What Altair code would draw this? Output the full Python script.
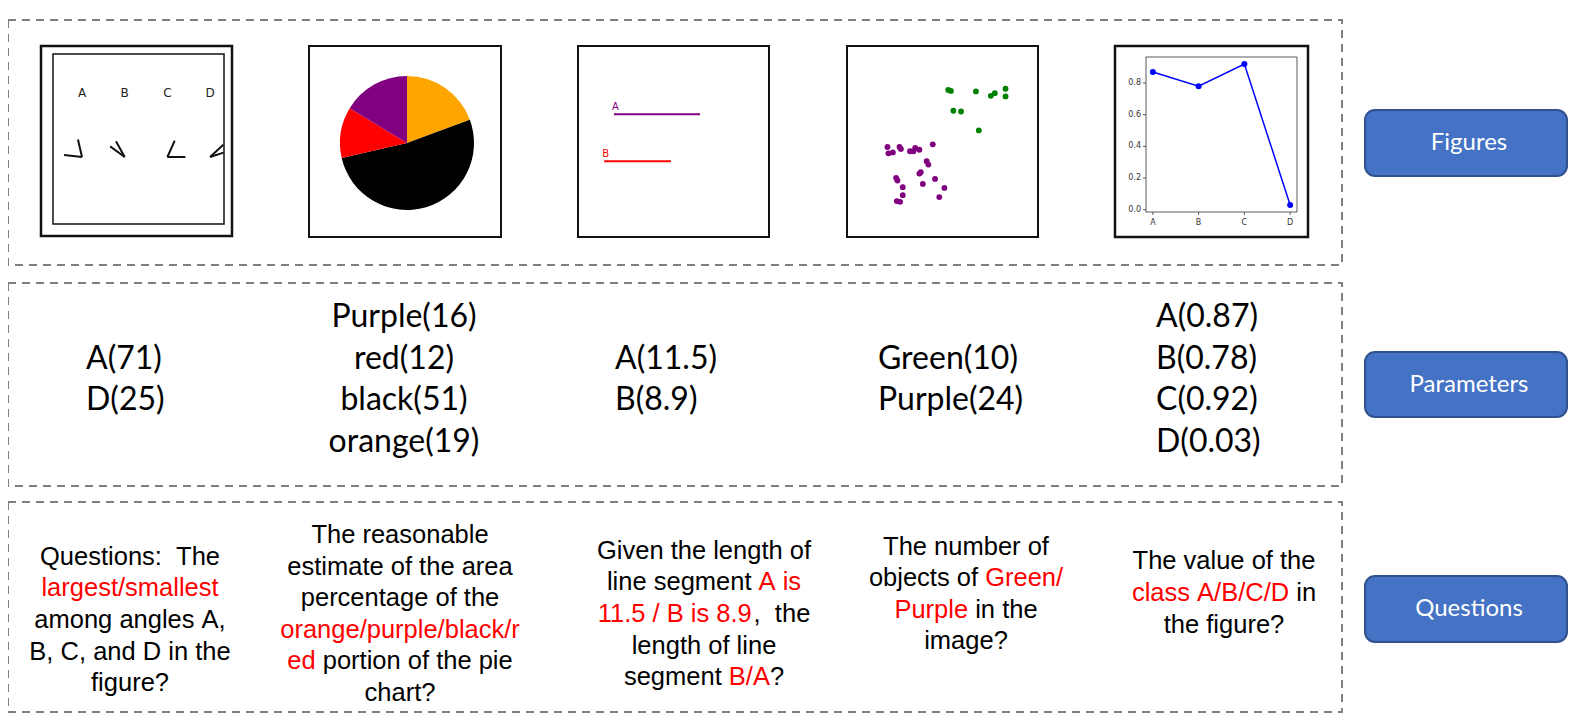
import math
import altair as alt
import pandas as pd

# ---------------- data ----------------
row_names = ["Figures", "Parameters", "Questions"]

angle_labels = ["A", "B", "C", "D"]
angle_values = [71, 25, 66, 25]          # opening of each angle (deg)
angle_orient = [103, 119, 0, 18]         # direction of first arm (deg)

pie_labels = ["orange", "black", "red", "purple"]
pie_values = [19, 51, 12, 16]
pie_colors = ["#FFA500", "#000000", "#FF0000", "#800080"]

seg_labels = ["A", "B"]
seg_lengths = [11.5, 8.9]
seg_start = [4.8, 3.5]
seg_level = [9.1, 15.4]
seg_colors = ["#800080", "#FF0000"]

green_x = [0.530, 0.544, 0.675, 0.753, 0.774, 0.830, 0.830, 0.557, 0.597, 0.690]
green_y = [0.770, 0.765, 0.762, 0.739, 0.753, 0.776, 0.736, 0.661, 0.657, 0.558]
purple_x = [0.212, 0.217, 0.240, 0.275, 0.282, 0.330, 0.348, 0.357, 0.379, 0.449,
            0.417, 0.426, 0.379, 0.386, 0.397, 0.257, 0.264, 0.292, 0.292, 0.261,
            0.278, 0.461, 0.510, 0.483]
purple_y = [0.471, 0.438, 0.443, 0.471, 0.461, 0.449, 0.449, 0.466, 0.457, 0.485,
            0.397, 0.379, 0.332, 0.339, 0.278, 0.310, 0.296, 0.261, 0.219, 0.188,
            0.184, 0.304, 0.257, 0.209]

line_classes = ["A", "B", "C", "D"]
line_values = [0.87, 0.78, 0.92, 0.03]
line_yticks = [0.0, 0.2, 0.4, 0.6, 0.8]

param_text = [
    ["A(71)", "D(25)"],
    ["Purple(16)", "red(12)", "black(51)", "orange(19)"],
    ["A(11.5)", "B(8.9)"],
    ["Green(10)", "Purple(24)"],
    ["A(0.87)", "B(0.78)", "C(0.92)", "D(0.03)"],
]

question_text = [
    [[("Questions:  The", 0)], [("largest/smallest", 1)], [("among angles A,", 0)],
     [("B, C, and D in the", 0)], [("figure?", 0)]],
    [[("The reasonable", 0)], [("estimate of the area", 0)], [("percentage of the", 0)],
     [("orange/purple/black/r", 1)], [("ed", 1), (" portion of the pie", 0)], [("chart?", 0)]],
    [[("Given the length of", 0)], [("line segment ", 0), ("A is", 1)],
     [("11.5 / B is 8.9", 1), (",  the", 0)], [("length of line", 0)],
     [("segment ", 0), ("B/A", 1), ("?", 0)]],
    [[("The number of", 0)], [("objects of ", 0), ("Green/", 1)],
     [("Purple", 1), (" in the", 0)], [("image?", 0)]],
    [[("The value of the", 0)], [("class A/B/C/D", 1), (" in", 0)], [("the figure?", 0)]],
]

# ---------------- layout ----------------
OX, OY, W, H = 8, 8, 1561, 710


def sx():
    return alt.Scale(domain=[OX, OX + W], range=[0, W], nice=False, zero=False)


def sy():
    return alt.Scale(domain=[OY, OY + H], range=[0, H], nice=False, zero=False)


def CX(f):
    return alt.X(f, type="quantitative", scale=sx(), axis=None)


def CY(f):
    return alt.Y(f, type="quantitative", scale=sy(), axis=None)


def rects(boxes, **mk):
    df = pd.DataFrame(boxes, columns=["x", "y", "x2", "y2"])
    return alt.Chart(df).mark_rect(**mk).encode(
        x=CX("x"), x2=alt.X2("x2"), y=CY("y"), y2=alt.Y2("y2"))


layers = []

# dashed group boxes
layers.append(rects([(8, 20, 1342, 265), (8, 283, 1342, 486), (8, 502, 1342, 712)],
                    fill="transparent", stroke="#808080", strokeWidth=2,
                    strokeDash=[8, 6]))

# blue row buttons
btn_boxes = [(1365, 110, 1567, 176), (1365, 352, 1567, 417), (1365, 576, 1567, 642)]
layers.append(rects(btn_boxes, fill="#4472C4", stroke="#2F528F", strokeWidth=2,
                    cornerRadius=10))
btn_df = pd.DataFrame({"x": [1469, 1469, 1469],
                       "y": [(b[1] + b[3]) / 2 for b in btn_boxes],
                       "t": row_names})
layers.append(alt.Chart(btn_df).mark_text(font="Lato", fontSize=24, color="white",
                                          align="center", baseline="middle").encode(
    x=CX("x"), y=CY("y"), text="t:N"))

# figure frames
layers.append(rects([(41, 46, 232, 236), (1115, 46, 1308, 237)],
                    fill="white", stroke="#111111", strokeWidth=2.5))
layers.append(rects([(309, 46, 501, 237), (578, 46, 769, 237), (847, 46, 1038, 237)],
                    fill="white", stroke="#111111", strokeWidth=2))
layers.append(rects([(53, 54, 224, 224)], fill="transparent", stroke="#111111",
                    strokeWidth=1.5))

# ---- figure 1: angles
ARM, VY, VX0, VDX, CLIP = 18, 157, 82, 42.7, 223.5
arm_rows, lab_rows = [], []
for i, (lab, val, ori) in enumerate(zip(angle_labels, angle_values, angle_orient)):
    vx = VX0 + i * VDX
    lab_rows.append(dict(x=vx, y=93, t=lab))
    for th in (ori, ori + val):
        ex = vx + ARM * math.cos(math.radians(th))
        ey = VY - ARM * math.sin(math.radians(th))
        if ex > CLIP:
            k = (CLIP - vx) / (ex - vx)
            ex, ey = vx + k * (ex - vx), VY + k * (ey - VY)
        arm_rows.append(dict(x=vx, y=VY, x2=ex, y2=ey))
layers.append(alt.Chart(pd.DataFrame(arm_rows)).mark_rule(
    color="#111111", strokeWidth=2).encode(
    x=CX("x"), y=CY("y"), x2=alt.X2("x2"), y2=alt.Y2("y2")))
layers.append(alt.Chart(pd.DataFrame(lab_rows)).mark_text(
    font="DejaVu Sans", fontSize=12, color="#222222", align="center",
    baseline="middle").encode(x=CX("x"), y=CY("y"), text="t:N"))

# ---- figure 2: pie
tot = float(sum(pie_values))
cum, pie_rows = 0.0, []
for lab, v, c in zip(pie_labels, pie_values, pie_colors):
    t0 = cum / tot * 2 * math.pi
    cum += v
    t1 = cum / tot * 2 * math.pi
    pie_rows.append(dict(label=lab, t0=t0, t1=t1, c=c, x=407, y=143))
layers.append(alt.Chart(pd.DataFrame(pie_rows)).mark_arc(radius=67).encode(
    x=CX("x"), y=CY("y"),
    theta=alt.Theta("t0:Q", scale=None), theta2=alt.Theta2("t1"),
    color=alt.Color("c:N", scale=None)))

# ---- figure 3: line segments
F3X = alt.Scale(domain=[0, 25.5], range=[578 - OX, 769 - OX], nice=False, zero=False)
F3Y = alt.Scale(domain=[0, 25.5], range=[46 - OY, 237 - OY], nice=False, zero=False)
seg_df = pd.DataFrame({"lab": seg_labels, "s": seg_start,
                       "e": [a + b for a, b in zip(seg_start, seg_lengths)],
                       "lv": seg_level, "c": seg_colors})
layers.append(alt.Chart(seg_df).mark_rule(strokeWidth=2).encode(
    x=alt.X("s:Q", scale=F3X, axis=None), x2=alt.X2("e"),
    y=alt.Y("lv:Q", scale=F3Y, axis=None), color=alt.Color("c:N", scale=None)))
layers.append(alt.Chart(seg_df).mark_text(
    font="DejaVu Sans", fontSize=10, align="left", baseline="middle", dx=-2,
    dy=-7).encode(
    x=alt.X("s:Q", scale=F3X, axis=None), y=alt.Y("lv:Q", scale=F3Y, axis=None),
    text="lab:N", color=alt.Color("c:N", scale=None)))

# ---- figure 4: scatter
F4X = alt.Scale(domain=[0, 1], range=[847 - OX, 1038 - OX], nice=False, zero=False)
F4Y = alt.Scale(domain=[0, 1], range=[237 - OY, 46 - OY], nice=False, zero=False)
sc_df = pd.DataFrame({"x": green_x + purple_x, "y": green_y + purple_y,
                      "c": ["#008000"] * len(green_x) + ["#800080"] * len(purple_x)})
layers.append(alt.Chart(sc_df).mark_circle(size=34, opacity=1).encode(
    x=alt.X("x:Q", scale=F4X, axis=None), y=alt.Y("y:Q", scale=F4Y, axis=None),
    color=alt.Color("c:N", scale=None)))

# ---- figure 5: line chart
LX = alt.Scale(domain=[-0.15, 3.15], range=[1146 - OX, 1297 - OX], nice=False, zero=False)
LY = alt.Scale(domain=[-0.0145, 0.9645], range=[212 - OY, 57 - OY], nice=False, zero=False)
layers.append(rects([(1146, 57, 1297, 212)], fill="transparent", stroke="#333333",
                    strokeWidth=0.8))
ln_df = pd.DataFrame({"i": list(range(len(line_classes))), "cls": line_classes,
                      "v": line_values})
layers.append(alt.Chart(ln_df).mark_line(color="#0000FF", strokeWidth=1.5).encode(
    x=alt.X("i:Q", scale=LX, axis=None), y=alt.Y("v:Q", scale=LY, axis=None)))
layers.append(alt.Chart(ln_df).mark_circle(color="#0000FF", size=36, opacity=1).encode(
    x=alt.X("i:Q", scale=LX, axis=None), y=alt.Y("v:Q", scale=LY, axis=None)))
yt_df = pd.DataFrame({"t": line_yticks, "lab": [f"{v:.1f}" for v in line_yticks],
                      "a": 1143, "b": 1146, "lx": 1141})
layers.append(alt.Chart(yt_df).mark_rule(color="#333333", strokeWidth=0.8).encode(
    x=CX("a"), x2=alt.X2("b"), y=alt.Y("t:Q", scale=LY, axis=None)))
layers.append(alt.Chart(yt_df).mark_text(
    font="DejaVu Sans", fontSize=8, color="#333333", align="right",
    baseline="middle").encode(
    x=CX("lx"), y=alt.Y("t:Q", scale=LY, axis=None), text="lab:N"))
xt_df = ln_df.assign(a=212, b=215, ly=223)
layers.append(alt.Chart(xt_df).mark_rule(color="#333333", strokeWidth=0.8).encode(
    x=alt.X("i:Q", scale=LX, axis=None), y=CY("a"), y2=alt.Y2("b")))
layers.append(alt.Chart(xt_df).mark_text(
    font="DejaVu Sans", fontSize=8, color="#333333", align="center",
    baseline="middle").encode(
    x=alt.X("i:Q", scale=LX, axis=None), y=CY("ly"), text="cls:N"))

# ---- parameters row
P_X = [86, 404, 615, 878, 1156]
P_ALIGN = ["left", "center", "left", "left", "left"]
P_CY, P_LH = 379.5, 41.5
p_rows = []
for col, lines in enumerate(param_text):
    n = len(lines)
    for li, t in enumerate(lines):
        p_rows.append(dict(x=P_X[col], y=P_CY + (li - (n - 1) / 2) * P_LH, t=t,
                           al=P_ALIGN[col]))
p_df = pd.DataFrame(p_rows)
for al in ("left", "center"):
    layers.append(alt.Chart(p_df[p_df.al == al]).mark_text(
        font="Lato", fontSize=32, color="black", align=al,
        baseline="middle").encode(x=CX("x"), y=CY("y"), text="t:N"))

# ---- questions row
AW = {' ': 278, '!': 278, '(': 333, ')': 333, ',': 278, '-': 333, '.': 278,
      '/': 278, ':': 278, '?': 556,
      'A': 667, 'B': 667, 'C': 722, 'D': 722, 'E': 667, 'F': 611, 'G': 778,
      'H': 722, 'I': 278, 'J': 500, 'K': 667, 'L': 556, 'M': 833, 'N': 722,
      'O': 778, 'P': 667, 'Q': 778, 'R': 722, 'S': 667, 'T': 611, 'U': 722,
      'V': 667, 'W': 944, 'X': 667, 'Y': 667, 'Z': 611,
      'a': 556, 'b': 556, 'c': 500, 'd': 556, 'e': 556, 'f': 278, 'g': 556,
      'h': 556, 'i': 222, 'j': 222, 'k': 500, 'l': 222, 'm': 833, 'n': 556,
      'o': 556, 'p': 556, 'q': 556, 'r': 333, 's': 500, 't': 278, 'u': 556,
      'v': 500, 'w': 722, 'x': 500, 'y': 500, 'z': 500}
for d in "0123456789":
    AW[d] = 556
Q_FS, Q_LH = 25.5, 31.6
Q_CX = [130, 400, 704, 966, 1224]
Q_CY = [620, 614, 614, 594, 593]


def tw(s):
    return sum(AW.get(ch, 556) for ch in s) * Q_FS / 1000.0


q_rows = []
for col, lines in enumerate(question_text):
    n = len(lines)
    for li, segs in enumerate(lines):
        y = Q_CY[col] + (li - (n - 1) / 2) * Q_LH
        x = Q_CX[col] - tw("".join(s for s, _ in segs)) / 2
        for s, red in segs:
            body = s.strip(" ")
            lead = len(s) - len(s.lstrip(" "))
            q_rows.append(dict(x=x + tw(" " * lead), y=y,
                               t=body.replace(" ", "\u00a0"),
                               c="#FF0000" if red else "#000000"))
            x += tw(s)
layers.append(alt.Chart(pd.DataFrame(q_rows)).mark_text(
    font="Liberation Sans", fontSize=Q_FS, align="left", baseline="middle").encode(
    x=CX("x"), y=CY("y"), text="t:N", color=alt.Color("c:N", scale=None)))

chart = alt.layer(*layers).resolve_scale(
    x="independent", y="independent", color="independent"
).properties(
    width=W, height=H, padding=0, autosize="none", background="white"
).configure_view(strokeWidth=0)

chart.save("out.html", embed_options={"renderer": "svg", "actions": False})
